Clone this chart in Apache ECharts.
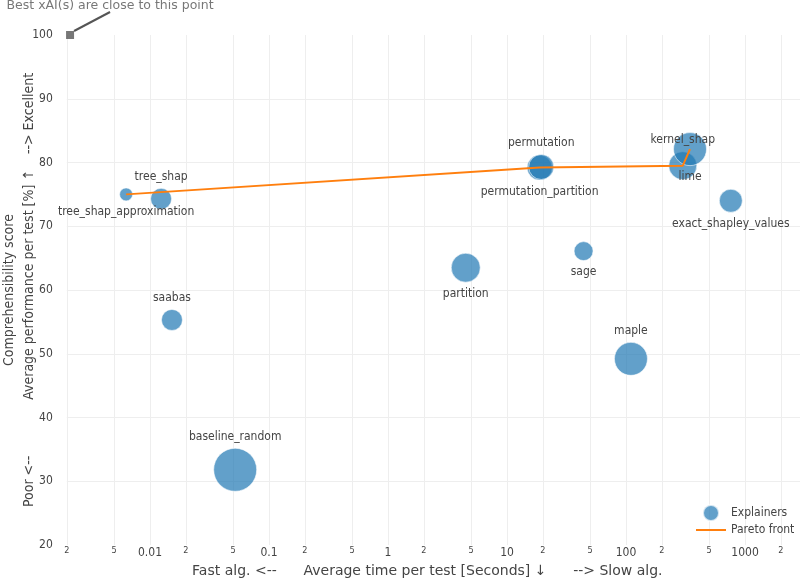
<!DOCTYPE html>
<html>
<head>
<meta charset="utf-8">
<title>xAI explainers</title>
<script src="https://cdn.jsdelivr.net/npm/echarts@6/dist/echarts.min.js"></script>
<style>
  html, body { margin: 0; padding: 0; background: #fff; }
  #main { width: 800px; height: 580px; }
</style>
</head>
<body>
<div id="main"></div>
<script>
// values
const explainers = ['tree_shap_approximation', 'tree_shap', 'saabas', 'baseline_random', 'partition',
  'permutation_partition', 'permutation', 'sage', 'maple', 'kernel_shap', 'lime', 'exact_shapley_values'];
const timePerTest = [0.0063, 0.0124, 0.0153, 0.052, 4.5, 18.8, 19.4, 44, 110, 300, 345, 760]; // seconds
const score = [75.0, 74.3, 55.3, 31.8, 63.5, 79.2, 79.3, 66.1, 49.2, 79.5, 82.1, 74.0]; // %
const bubbleSize = [13, 21, 21, 43, 29, 25, 25, 19, 33, 28, 33, 23];

const xTickValues = [0.002, 0.005, 0.01, 0.02, 0.05, 0.1, 0.2, 0.5, 1, 2, 5, 10, 20, 50, 100, 200, 500, 1000, 2000];
const xTickLabels = ['2', '5', '0.01', '2', '5', '0.1', '2', '5', '1', '2', '5', '10', '2', '5', '100', '2', '5', '1000', '2'];
const bestPoint = [0.00213, 100];

// names whose label sits under the bubble
const labelBelow = ['tree_shap_approximation', 'partition', 'permutation_partition', 'sage', 'lime', 'exact_shapley_values'];

const FONT = "'DejaVu Sans Condensed', 'Liberation Sans', sans-serif";
const WIDE = "'DejaVu Sans', Verdana, sans-serif";
const lg = Math.log10;
const xTickLog = xTickValues.map(lg);
const sp = n => ' '.repeat(n);

// pareto front: faster and better than everything before it
const order = explainers.map((n, i) => i).sort((a, b) => timePerTest[a] - timePerTest[b]);
const pareto = [];
let best = -Infinity;
order.forEach(i => {
  if (score[i] > best) {
    best = score[i];
    pareto.push([lg(timePerTest[i]), score[i]]);
  }
});

const bubbles = explainers.map((name, i) => ({
  name: name,
  value: [lg(timePerTest[i]), score[i], bubbleSize[i]],
  label: { position: labelBelow.indexOf(name) >= 0 ? 'bottom' : 'top' }
}));

const chart = echarts.init(document.getElementById('main'));
chart.setOption({
  animation: false,
  textStyle: { fontFamily: FONT },
  grid: { left: 66.8, top: 35, width: 735, height: 510, containLabel: false, outerBoundsMode: 'none' },
  legend: {
    data: ['Explainers', { name: 'Pareto front', icon: 'path://M0,0H30V2H0Z' }],
    orient: 'vertical',
    left: 691, top: 499,
    itemWidth: 30, itemHeight: 16, itemGap: 2,
    textStyle: { color: '#444', fontSize: 12, fontFamily: FONT }
  },
  xAxis: {
    type: 'value',
    min: lg(0.002), max: lg(3000),
    axisLine: { show: false },
    axisTick: { show: false, customValues: xTickLog },
    axisLabel: {
      customValues: xTickLog,
      margin: 1,
      color: '#444',
      formatter: function (v) {
        for (let i = 0; i < xTickLog.length; i++) {
          if (Math.abs(xTickLog[i] - v) < 1e-6) {
            const major = xTickLabels[i] !== '2' && xTickLabels[i] !== '5';
            return major ? '{major|' + xTickLabels[i] + '}' : '{minor|' + xTickLabels[i] + '}';
          }
        }
        return '';
      },
      rich: {
        major: { fontSize: 12, lineHeight: 14, color: '#444', fontFamily: FONT },
        minor: { fontSize: 9, lineHeight: 9, color: '#444', fontFamily: FONT }
      }
    },
    splitLine: { show: true, lineStyle: { color: '#eeeeee', width: 1 } },
    name: 'Fast alg. <--' + sp(6) + 'Average time per test [Seconds] \u2193' + sp(6) + '--> Slow alg.',
    nameLocation: 'middle',
    nameGap: 18,
    nameTextStyle: { color: '#444', fontSize: 14, fontFamily: WIDE, padding: [0, 14, 0, 0] }
  },
  yAxis: {
    type: 'value',
    min: 20, max: 100, interval: 10,
    axisLine: { show: false },
    axisTick: { show: false },
    axisLabel: { color: '#444', fontSize: 12, margin: 14 },
    splitLine: { lineStyle: { color: '#eeeeee', width: 1 }, showMinLine: false, showMaxLine: false },
    name: 'Comprehensibility score\nPoor <--' + sp(14) + 'Average performance per test [%] \u2191' + sp(4) + '--> Excellent',
    nameLocation: 'middle',
    nameGap: 27,
    nameMoveOverlap: false,
    nameTextStyle: { color: '#444', fontSize: 14, lineHeight: 20, fontFamily: FONT }
  },
  series: [
    {
      name: 'Explainers',
      type: 'scatter',
      data: bubbles,
      symbolSize: v => v[2],
      itemStyle: { color: '#1f77b4', opacity: 0.7, borderColor: '#fff', borderWidth: 0.8 },
      label: { show: true, formatter: '{b}', color: '#444', opacity: 1, fontSize: 12, distance: 5 },
      emphasis: { disabled: true },
      z: 2
    },
    {
      name: 'Pareto front',
      type: 'line',
      data: pareto,
      symbol: 'none',
      lineStyle: { color: '#ff7f0e', width: 2 },
      itemStyle: { color: '#ff7f0e' },
      z: 3
    },
    {
      name: 'best',
      type: 'scatter',
      data: [[lg(bestPoint[0]), bestPoint[1]]],
      symbol: 'rect',
      symbolSize: 8,
      clip: false,
      itemStyle: { color: '#555' },
      label: {
        show: true, position: 'top',
        formatter: 'Best xAI(s) are close to this point',
        color: '#555', fontSize: 12.5, fontFamily: WIDE
      },
      labelLayout: { dx: 40, dy: -14 },
      labelLine: { show: true, lineStyle: { color: '#555', width: 2 } },
      emphasis: { disabled: true },
      z: 4
    }
  ]
});
</script>
</body>
</html>
